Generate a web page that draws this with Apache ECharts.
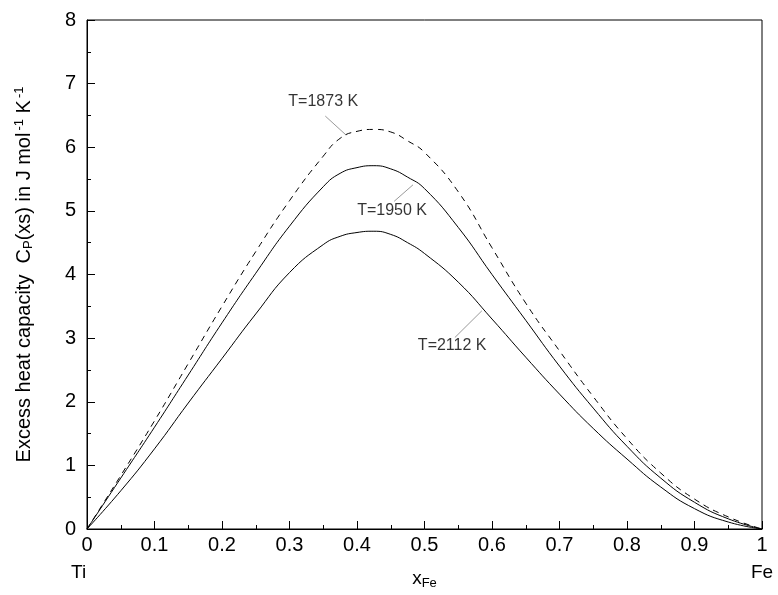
<!DOCTYPE html>
<html>
<head>
<meta charset="utf-8">
<script src="https://cdn.jsdelivr.net/npm/echarts@6/dist/echarts.min.js"></script>
<style>
  html, body { margin: 0; padding: 0; background: #fff; }
  #chart { width: 778px; height: 595px; }
</style>
</head>
<body>
<div id="chart"></div>
<script>
// x_Fe mole fraction
const xFe = [0, 0.05, 0.1, 0.15, 0.2, 0.25, 0.3, 0.35, 0.375, 0.4, 0.425, 0.45, 0.475, 0.5, 0.55, 0.6, 0.65, 0.7, 0.75, 0.8, 0.85, 0.9, 0.95, 1]
// excess heat capacity, J mol-1 K-1
const cp1873 = [0, 0.84, 1.7, 2.6, 3.5, 4.36, 5.16, 5.86, 6.14, 6.25, 6.28, 6.24, 6.1, 5.92, 5.3, 4.42, 3.55, 2.8, 2.08, 1.42, 0.88, 0.47, 0.19, 0]
const cp1950 = [0, 0.8, 1.6, 2.42, 3.24, 4.02, 4.76, 5.38, 5.59, 5.68, 5.71, 5.66, 5.53, 5.35, 4.74, 4.0, 3.28, 2.56, 1.9, 1.3, 0.8, 0.42, 0.16, 0]
const cp2112 = [0, 0.6, 1.26, 1.98, 2.68, 3.38, 4.03, 4.47, 4.6, 4.66, 4.68, 4.63, 4.5, 4.33, 3.88, 3.3, 2.7, 2.12, 1.58, 1.1, 0.66, 0.32, 0.11, 0]

// labels: text, text pos, leader start, leader end (data units)
const notes = [
  { text: 'T=1873 K', at: [0.350, 6.71], from: [0.353, 6.49], to: [0.384, 6.19] },
  { text: 'T=1950 K', at: [0.452, 5.01], from: [0.455, 5.15], to: [0.483, 5.41] },
  { text: 'T=2112 K', at: [0.541, 2.89], from: [0.545, 3.01], to: [0.585, 3.43] }
]

const FONT = '"Liberation Sans", Arial, sans-serif'

const pairs = ys => xFe.map((x, i) => [x, ys[i]])

const chart = echarts.init(document.getElementById('chart'))

const lineSeries = (name, ys, dashed) => ({
  name,
  type: 'line',
  data: pairs(ys),
  smooth: 0.5,
  showSymbol: false,
  lineStyle: {
    color: '#000',
    width: 1,
    type: dashed ? [6, 5] : 'solid'
  },
  z: 3
})

const option = {
  animation: false,
  backgroundColor: '#fff',
  grid: {
    left: 87, right: 16, top: 20, bottom: 62,
    show: true, borderColor: '#000', borderWidth: 1
  },
  xAxis: {
    type: 'value',
    min: 0, max: 1, interval: 0.1,
    name: '{x|x}{s|Fe}',
    nameLocation: 'middle',
    nameGap: 38,
    nameTextStyle: {
      rich: {
        x: { fontFamily: FONT, fontSize: 19, color: '#000' },
        s: { fontFamily: FONT, fontSize: 13, color: '#000', verticalAlign: 'bottom', padding: [10, 0, 0, 0] }
      }
    },
    axisLine: { lineStyle: { color: '#000', width: 1 } },
    axisTick: { inside: true, length: 8, lineStyle: { color: '#000' } },
    minorTick: { show: true, splitNumber: 2, length: 4, lineStyle: { color: '#000' } },
    axisLabel: {
      fontFamily: FONT, fontSize: 20, color: '#000', margin: 6,
      formatter: v => String(Math.round(v * 10) / 10)
    },
    splitLine: { show: false }
  },
  yAxis: {
    type: 'value',
    min: 0, max: 8, interval: 1,
    name: '{t|Excess heat capacity  C}{s|P}{t|(xs) in J mol}{u|-1}{t| K}{u|-1}',
    nameLocation: 'middle',
    nameGap: 52,
    nameRotate: 90,
    nameTextStyle: {
      rich: {
        t: { fontFamily: FONT, fontSize: 20, color: '#000' },
        s: { fontFamily: FONT, fontSize: 13, color: '#000', padding: [9, 0, 0, 0] },
        u: { fontFamily: FONT, fontSize: 13, color: '#000', padding: [0, 0, 9, 2] }
      }
    },
    axisLine: { show: true, lineStyle: { color: '#000', width: 1 } },
    axisTick: { inside: true, length: 8, lineStyle: { color: '#000' } },
    minorTick: { show: true, splitNumber: 2, length: 4, lineStyle: { color: '#000' } },
    axisLabel: { fontFamily: FONT, fontSize: 20, color: '#000', margin: 11 },
    splitLine: { show: false }
  },
  series: [
    lineSeries('T=1873 K', cp1873, true),
    lineSeries('T=1950 K', cp1950, false),
    lineSeries('T=2112 K', cp2112, false),
    {
      type: 'lines',
      coordinateSystem: 'cartesian2d',
      data: notes.map(n => ({ coords: [n.from, n.to] })),
      lineStyle: { color: '#000', width: 0.8 },
      z: 4
    },
    {
      type: 'scatter',
      data: notes.map(n => ({ value: n.at, name: n.text })),
      symbolSize: 0,
      label: {
        show: true,
        position: 'inside',
        formatter: p => p.name,
        fontFamily: FONT, fontSize: 16, color: '#000'
      },
      z: 5
    }
  ],
  graphic: [
    { type: 'text', left: 71, top: 563, style: { text: 'Ti', font: '19px ' + FONT, fill: '#000' } },
    { type: 'text', left: 751, top: 563, style: { text: 'Fe', font: '19px ' + FONT, fill: '#000' } }
  ]
}

chart.setOption(option)
</script>
</body>
</html>
